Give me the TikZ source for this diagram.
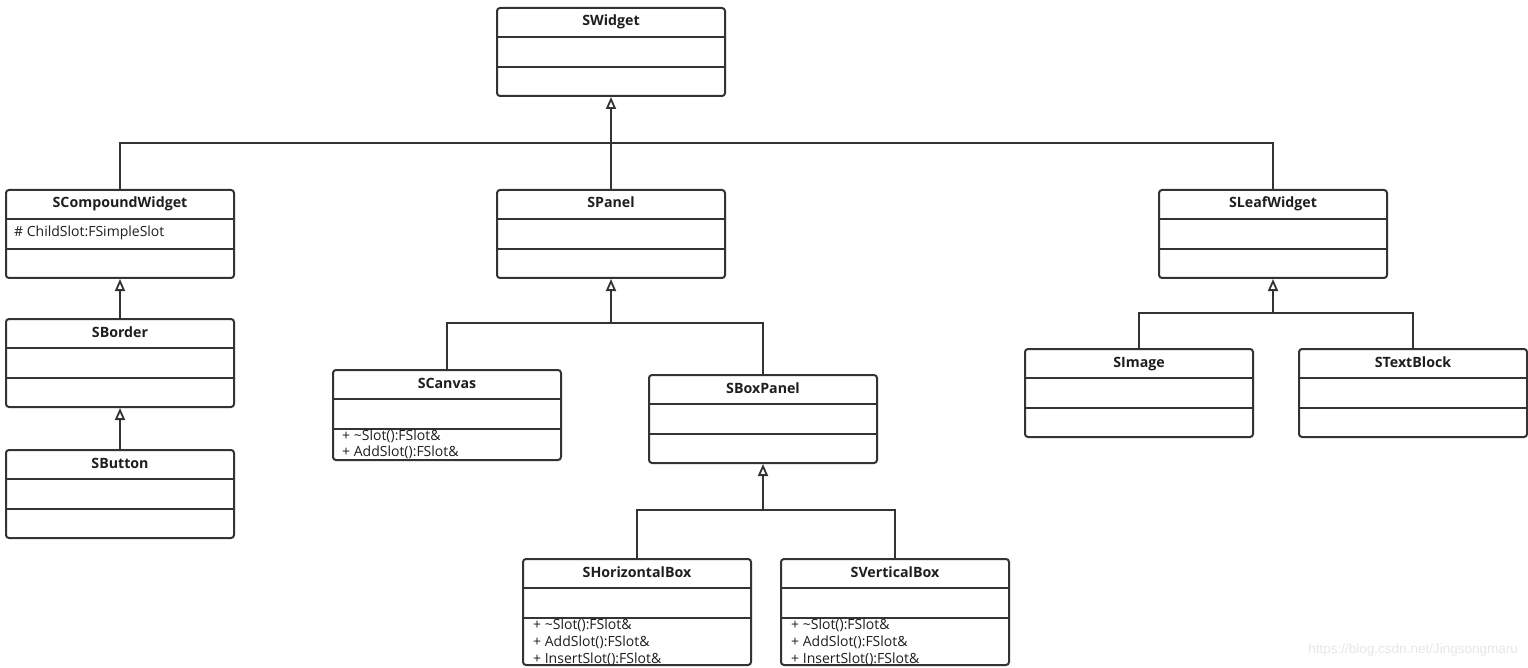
\documentclass[tikz,border=0pt]{standalone}
\usepackage{fontspec}
\setmainfont{Open Sans}
\newfontfamily\wmfont{Liberation Sans}
\usetikzlibrary{arrows.meta,calc}
\definecolor{linec}{HTML}{333333}
\definecolor{textc}{HTML}{1E1E1E}
\definecolor{wmc}{HTML}{E6E6E6}
\tikzset{
  cls/.style={draw=linec, line width=2pt, rounded corners=3pt, fill=white, minimum width=228pt, inner sep=0pt},
  sepline/.style={draw=linec, line width=1.6pt},
  ttl/.style={font=\bfseries\fontsize{14.2}{16}\selectfont, text=textc, inner sep=0pt, anchor=base},
  mem/.style={font=\fontsize{14}{16}\selectfont, text=textc, anchor=base west, inner sep=0pt},
  conn/.style={draw=linec, line width=2pt},
  inh/.style={conn, -{Triangle[open, length=12pt, width=10pt, line width=1.8pt]}},
}
% name, cx, ytop, height, title
\newcommand\umlbox[5]{%
  \node[cls, minimum height=#4pt, anchor=north] (#1) at (#2,#3) {};
  \node[ttl] (#1-t) at ($(#1.north)+(0,19)$) {#5};
  \draw[sepline] ([yshift=-30pt]#1.north west) -- ([yshift=-30pt]#1.north east);
  \draw[sepline] ([yshift=-60pt]#1.north west) -- ([yshift=-60pt]#1.north east);
}
\begin{document}
\begin{tikzpicture}[x=1pt,y=-1pt]
\useasboundingbox (0,0) rectangle (1528,668);
\umlbox{swidget}{611}{7}{88}{SWidget}
\umlbox{scomp}{120}{189}{88}{SCompoundWidget}
\umlbox{spanel}{611}{189}{88}{SPanel}
\umlbox{sleaf}{1273}{189}{88}{SLeafWidget}
\umlbox{sborder}{120}{318}{88}{SBorder}
\umlbox{sbutton}{120}{449}{88}{SButton}
\umlbox{scanvas}{447}{369}{90}{SCanvas}
\umlbox{sboxpanel}{763}{374}{88}{SBoxPanel}
\umlbox{shbox}{637}{558}{106}{SHorizontalBox}
\umlbox{svbox}{895}{558}{106}{SVerticalBox}
\umlbox{simage}{1139}{348}{88}{SImage}
\umlbox{stext}{1413}{348}{88}{STextBlock}

\node[mem] (scomp-a1) at ([xshift=9pt,yshift=-48pt]scomp.north west) {\# ChildSlot:FSimpleSlot};

\node[mem] (scanvas-m1) at ([xshift=10pt,yshift=-71pt]scanvas.north west) {+ \textasciitilde Slot():FSlot\&};
\node[mem] (scanvas-m2) at ([xshift=10pt,yshift=-87pt]scanvas.north west) {+ AddSlot():FSlot\&};

\node[mem] (shbox-m1) at ([xshift=11pt,yshift=-71pt]shbox.north west) {+ \textasciitilde Slot():FSlot\&};
\node[mem] (shbox-m2) at ([xshift=11pt,yshift=-88pt]shbox.north west) {+ AddSlot():FSlot\&};
\node[mem] (shbox-m3) at ([xshift=11pt,yshift=-105pt]shbox.north west) {+ InsertSlot():FSlot\&};

\node[mem] (svbox-m1) at ([xshift=11pt,yshift=-71pt]svbox.north west) {+ \textasciitilde Slot():FSlot\&};
\node[mem] (svbox-m2) at ([xshift=11pt,yshift=-88pt]svbox.north west) {+ AddSlot():FSlot\&};
\node[mem] (svbox-m3) at ([xshift=11pt,yshift=-105pt]svbox.north west) {+ InsertSlot():FSlot\&};

% connectors
\coordinate (j1) at (611,143);
\draw[conn] (scomp.north) |- (j1) -| (sleaf.north);
\draw[conn] (spanel.north) -- (j1);
\draw[inh] (j1) -- (swidget.south);

\coordinate (j2) at (611,323);
\draw[conn] (scanvas.north) |- (j2) -| (sboxpanel.north);
\draw[inh] (j2) -- (spanel.south);

\coordinate (j3) at (763,510);
\draw[conn] (shbox.north) |- (j3) -| (svbox.north);
\draw[inh] (j3) -- (sboxpanel.south);

\coordinate (j4) at (1273,313);
\draw[conn] (simage.north) |- (j4) -| (stext.north);
\draw[inh] (j4) -- (sleaf.south);

\draw[inh] (sborder.north) -- (scomp.south);
\draw[inh] (sbutton.north) -- (sborder.south);

\node[font=\wmfont\fontsize{13.5}{15}\selectfont, text=wmc, anchor=east, inner sep=0pt] (wm) at (1518,650) {https://blog.csdn.net/Jingsongmaru};
\end{tikzpicture}
\end{document}
